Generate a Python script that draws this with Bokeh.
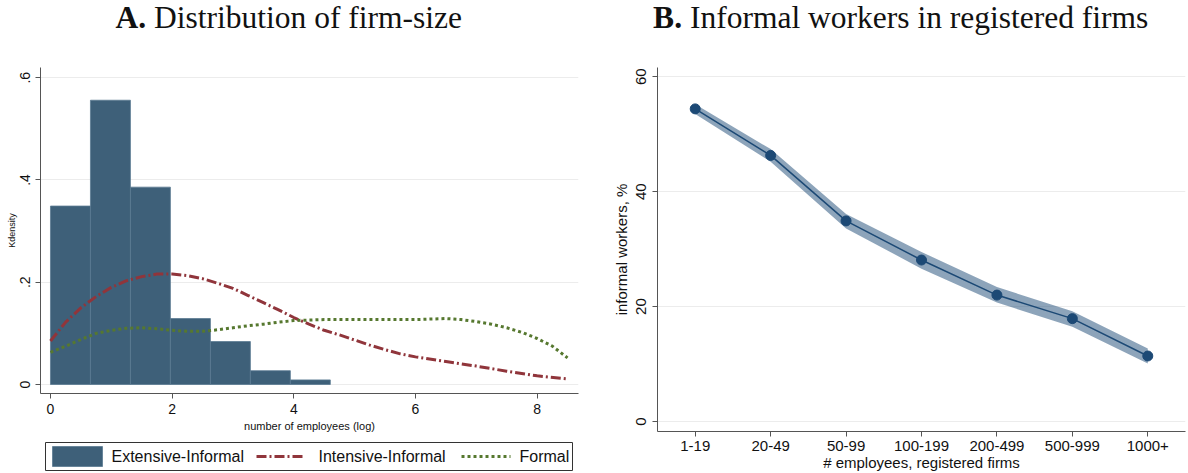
from bokeh.plotting import figure
from bokeh.layouts import row, column
from bokeh.models import Range1d, FactorRange, FixedTicker, ColumnDataSource
from bokeh.core.properties import value
from bokeh.embed import file_html
from bokeh.resources import INLINE

# ---------------- Panel A: firm-size distribution ----------------
# histogram of log employment for extensive-margin informal firms
hist_edges = [0.0, 0.657, 1.314, 1.971, 2.629, 3.286, 3.943, 4.6]
hist_density = [0.349, 0.556, 0.386, 0.129, 0.084, 0.027, 0.009]

# kernel density, intensive-margin informal firms
intensive_x = [0, 0.25, 0.5, 0.75, 1.0, 1.25, 1.5, 1.75, 2.0, 2.25, 2.5, 2.75, 3.0,
               3.25, 3.5, 3.75, 4.0, 4.25, 4.5, 4.75, 5.0, 5.25, 5.5, 5.75, 6.0,
               6.5, 7.0, 7.5, 8.0, 8.5]
intensive_y = [0.085, 0.122, 0.150, 0.172, 0.190, 0.203, 0.211, 0.216, 0.216, 0.213,
               0.207, 0.198, 0.188, 0.174, 0.160, 0.146, 0.131, 0.118, 0.106, 0.097,
               0.087, 0.077, 0.068, 0.060, 0.054, 0.045, 0.036, 0.026, 0.017, 0.011]

# kernel density, formal firms
formal_x = [0, 0.25, 0.5, 0.75, 1.0, 1.25, 1.5, 1.75, 2.0, 2.25, 2.5, 2.75, 3.0,
            3.25, 3.5, 3.75, 4.0, 4.25, 4.5, 5.0, 5.5, 6.0, 6.5, 6.75, 7.0, 7.25,
            7.5, 7.75, 8.0, 8.25, 8.5]
formal_y = [0.063, 0.075, 0.088, 0.100, 0.106, 0.110, 0.111, 0.109, 0.106, 0.104,
            0.104, 0.107, 0.111, 0.115, 0.118, 0.122, 0.125, 0.126, 0.127, 0.127,
            0.127, 0.127, 0.129, 0.127, 0.123, 0.118, 0.111, 0.102, 0.090, 0.075,
            0.052]

series_names = ["Extensive-Informal", "Intensive-Informal", "Formal"]

a_xticks = [0, 2, 4, 6, 8]
a_yticks = [0, 0.2, 0.4, 0.6]
a_ytick_labels = ["0", ".2", ".4", ".6"]

# ---------------- Panel B: informal workers by firm size ----------------
size_classes = ["1-19", "20-49", "50-99", "100-199", "200-499", "500-999", "1000+"]
informal_share = [54.4, 46.3, 34.9, 28.1, 22.0, 17.9, 11.4]
ci_low = [53.5, 45.2, 33.6, 26.6, 20.7, 16.5, 10.1]
ci_high = [55.2, 47.4, 36.1, 29.5, 23.4, 19.2, 12.7]
b_yticks = [0, 20, 40, 60]

# panel headings: bold letter + plain caption
panel_letters = ["A.", "B."]
panel_captions = ["Distribution of firm-size", "Informal workers in registered firms"]

SANS = "Liberation Sans"
SERIF = "Liberation Serif"
AXIS_GRAY = "#555555"
GRID_GRAY = "#ececec"
HIST_BLUE = "#3e6079"
HIST_EDGE = "#5b7a92"
CRANBERRY = "#90353b"
OLIVE = "#56782f"
NAVY = "#1c4975"
INK = "#111111"

TITLE_H = 60          # heading strip
LEG_H = 38            # legend strip under panel A
W_A, W_B, H = 600, 588, 473


def stata_axes(p, tick_size):
    p.outline_line_color = None
    p.background_fill_color = "white"
    p.border_fill_color = "white"
    for ax in (p.xaxis[0], p.yaxis[0]):
        ax.axis_line_color = AXIS_GRAY
        ax.major_tick_line_color = AXIS_GRAY
        ax.major_tick_out = 5
        ax.major_tick_in = 0
        ax.minor_tick_line_color = None
        ax.major_label_text_font = SANS
        ax.major_label_text_font_size = tick_size
        ax.major_label_text_color = INK
        ax.axis_label_text_font = SANS
        ax.axis_label_text_font_style = "normal"
        ax.axis_label_text_color = INK
    p.yaxis[0].major_label_orientation = "vertical"
    p.xgrid.grid_line_color = None
    p.ygrid.grid_line_color = GRID_GRAY
    p.ygrid.grid_line_width = 1


def blank_strip(w, h):
    s = figure(width=w, height=h, output_backend="svg", toolbar_location=None,
               x_range=Range1d(0, w), y_range=Range1d(h, 0),
               x_axis_type=None, y_axis_type=None, min_border=0)
    s.outline_line_color = None
    s.grid.grid_line_color = None
    s.background_fill_color = "white"
    s.border_fill_color = "white"
    return s


# ---------------- heading strip ----------------
pt = blank_strip(W_A + W_B, TITLE_H)
head_cx = [288, 900]          # centre of each heading
letter_w = [31, 29]           # approximate rendered widths
caption_w = [308, 458]
gap = 8
split = [c - (lw + gap + cw) / 2 + lw for c, lw, cw in zip(head_cx, letter_w, caption_w)]
head_base = [17, 17]
pt.text(x=split, y=head_base, text=panel_letters, text_font=value(SERIF),
        text_font_size="31.5px", text_font_style="bold", text_color=INK,
        text_align="right", text_baseline="alphabetic")
pt.text(x=[s + gap for s in split], y=head_base, text=panel_captions,
        text_font=value(SERIF), text_font_size="31.5px", text_color=INK,
        text_align="left", text_baseline="alphabetic")

# ---------------- figure A ----------------
pa = figure(width=W_A, height=H - TITLE_H - LEG_H, output_backend="svg",
            toolbar_location=None,
            x_range=Range1d(-0.164, 8.68), y_range=Range1d(-0.0176, 0.620),
            min_border_left=40, min_border_right=22, min_border_top=7,
            min_border_bottom=42)
stata_axes(pa, "14px")
pa.xaxis.ticker = FixedTicker(ticks=a_xticks)
pa.yaxis.ticker = FixedTicker(ticks=a_yticks)
pa.ygrid.ticker = FixedTicker(ticks=a_yticks)
pa.yaxis.major_label_overrides = {t: s for t, s in zip(a_yticks, a_ytick_labels)}
pa.xaxis.axis_label = "number of employees (log)"
pa.xaxis.axis_label_text_font_size = "11px"
pa.xaxis.major_label_standoff = 5
pa.xaxis.axis_label_standoff = 3
pa.yaxis.axis_label = "Kdensity"
pa.yaxis.axis_label_text_font_size = "9px"
pa.yaxis.major_label_standoff = 5
pa.yaxis.axis_label_standoff = 1

hist_src = ColumnDataSource(dict(left=hist_edges[:-1], right=hist_edges[1:],
                                 top=hist_density))
pa.quad(left="left", right="right", top="top", bottom=0, source=hist_src,
        fill_color=HIST_BLUE, line_color=HIST_EDGE, line_width=0.8)
INT_DASH = "10 3 2 3"
FOR_DASH = "3 3"
pa.line(intensive_x, intensive_y, line_color=CRANBERRY, line_width=3,
        line_dash=INT_DASH)
pa.line(formal_x, formal_y, line_color=OLIVE, line_width=3, line_dash=FOR_DASH)

# ---------------- key for panel A ----------------
pl = blank_strip(W_A, LEG_H)
box = dict(left=45, right=572, top=7, bottom=35)
mid = (box["top"] + box["bottom"]) / 2
pl.quad(left=box["left"], right=box["right"], top=box["top"], bottom=box["bottom"],
        fill_color="white", line_color="#333333", line_width=1)
pl.quad(left=52, right=102, top=mid - 10, bottom=mid + 10, fill_color=HIST_BLUE,
        line_color=HIST_EDGE, line_width=0.8)
pl.line([256, 305], [mid, mid], line_color=CRANBERRY, line_width=3,
        line_dash=INT_DASH)
pl.line([461, 510], [mid, mid], line_color=OLIVE, line_width=3, line_dash=FOR_DASH)
pl.text(x=[111, 318, 519], y=[mid] * 3, text=series_names, text_font=value(SANS),
        text_font_size="16px", text_color=INK, text_align="left",
        text_baseline="middle")

# ---------------- figure B ----------------
pb = figure(width=W_B, height=H - TITLE_H, output_backend="svg", toolbar_location=None,
            x_range=FactorRange(*size_classes), y_range=Range1d(-1.74, 61.6),
            min_border_left=57, min_border_right=3, min_border_top=7,
            min_border_bottom=42)
stata_axes(pb, "15px")
pb.yaxis.ticker = FixedTicker(ticks=b_yticks)
pb.ygrid.ticker = FixedTicker(ticks=b_yticks)
pb.xaxis.axis_label = "# employees, registered firms"
pb.xaxis.axis_label_text_font_size = "15px"
pb.xaxis.major_label_standoff = 4
pb.xaxis.axis_label_standoff = 0
pb.yaxis.axis_label = "informal workers, %"
pb.yaxis.axis_label_text_font_size = "15px"
pb.yaxis.major_label_standoff = 6
pb.yaxis.axis_label_standoff = 4

b_src = ColumnDataSource(dict(cat=size_classes, share=informal_share,
                              lo=ci_low, hi=ci_high))
pb.varea(x="cat", y1="lo", y2="hi", source=b_src, fill_color=NAVY,
         fill_alpha=0.5)
pb.line(x="cat", y="share", source=b_src, line_color=NAVY, line_width=1.5)
pb.scatter(x="cat", y="share", source=b_src, size=10, fill_color=NAVY,
           line_color=NAVY)

layout = column(pt, row(column(column(pa), column(pl)), column(pb)))
open("out.html", "w").write(file_html(layout, INLINE))
